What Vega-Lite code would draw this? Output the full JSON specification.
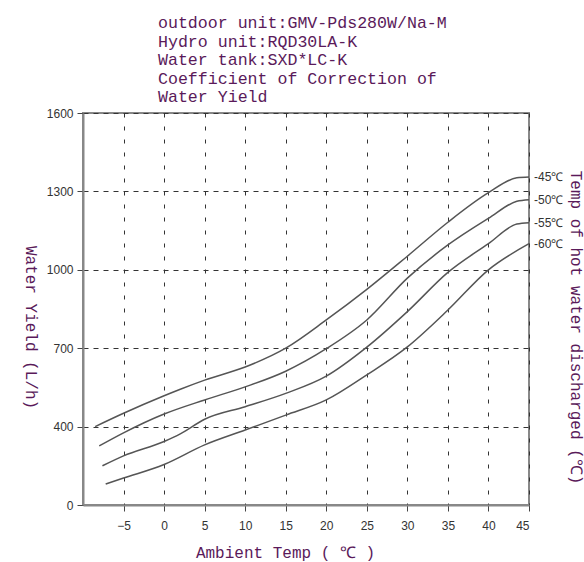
{
  "$schema": "https://vega.github.io/schema/vega-lite/v6.json",
  "width": 446,
  "height": 392,
  "autosize": {"type": "none"},
  "padding": {"left": 83, "top": 113, "right": 55, "bottom": 57},
  "background": "white",
  "title": {
    "text": ["outdoor unit:GMV-Pds280W/Na-M", "Hydro unit:RQD30LA-K", "Water tank:SXD*LC-K", "Coefficient of Correction of", "Water Yield"],
    "anchor": "start",
    "frame": "group",
    "dx": 75,
    "offset": -15,
    "baseline": "bottom",
    "font": "Liberation Mono",
    "fontSize": 16.6,
    "fontWeight": "normal",
    "color": "#5a1a5a",
    "lineHeight": 18.5
  },
  "config": {
    "view": {"stroke": "#888888", "strokeWidth": 2},
    "axis": {
      "labelFont": "Liberation Sans Narrow, Liberation Sans",
      "labelFontSize": 12,
      "labelColor": "#333333",
      "titleFont": "Liberation Mono",
      "titleFontSize": 16,
      "titleFontWeight": "normal",
      "titleColor": "#5a1a5a",
      "domainColor": "#888888",
      "domainWidth": 2,
      "tickColor": "#444444",
      "tickSize": 6,
      "gridColor": "#333333",
      "gridWidth": 1,
      "gridOpacity": 1
    }
  },
  "data": {
    "values": [
      {"t": -8.5, "y": 400, "s": "45℃"}, {"t": -5, "y": 451, "s": "45℃"}, {"t": 0, "y": 518, "s": "45℃"}, {"t": 2, "y": 543, "s": "45℃"}, {"t": 5, "y": 578, "s": "45℃"}, {"t": 10, "y": 628, "s": "45℃"}, {"t": 15, "y": 700, "s": "45℃"}, {"t": 20, "y": 808, "s": "45℃"}, {"t": 25, "y": 925, "s": "45℃"}, {"t": 30, "y": 1052, "s": "45℃"}, {"t": 35, "y": 1182, "s": "45℃"}, {"t": 40, "y": 1295, "s": "45℃"}, {"t": 43.5, "y": 1352, "s": "45℃"}, {"t": 45, "y": 1355, "s": "45℃"},
      {"t": -8, "y": 326, "s": "50℃"}, {"t": -5, "y": 376, "s": "50℃"}, {"t": 0, "y": 448, "s": "50℃"}, {"t": 5, "y": 502, "s": "50℃"}, {"t": 10, "y": 552, "s": "50℃"}, {"t": 15, "y": 612, "s": "50℃"}, {"t": 20, "y": 698, "s": "50℃"}, {"t": 25, "y": 808, "s": "50℃"}, {"t": 30, "y": 968, "s": "50℃"}, {"t": 35, "y": 1095, "s": "50℃"}, {"t": 40, "y": 1197, "s": "50℃"}, {"t": 43.5, "y": 1262, "s": "50℃"}, {"t": 45, "y": 1268, "s": "50℃"},
      {"t": -7.6, "y": 250, "s": "55℃"}, {"t": -5, "y": 288, "s": "55℃"}, {"t": 0, "y": 343, "s": "55℃"}, {"t": 2, "y": 372, "s": "55℃"}, {"t": 5, "y": 428, "s": "55℃"}, {"t": 10, "y": 476, "s": "55℃"}, {"t": 15, "y": 527, "s": "55℃"}, {"t": 20, "y": 593, "s": "55℃"}, {"t": 25, "y": 704, "s": "55℃"}, {"t": 30, "y": 840, "s": "55℃"}, {"t": 35, "y": 990, "s": "55℃"}, {"t": 40, "y": 1100, "s": "55℃"}, {"t": 43.5, "y": 1175, "s": "55℃"}, {"t": 45, "y": 1180, "s": "55℃"},
      {"t": -7.2, "y": 180, "s": "60℃"}, {"t": -5, "y": 203, "s": "60℃"}, {"t": 0, "y": 255, "s": "60℃"}, {"t": 5, "y": 330, "s": "60℃"}, {"t": 10, "y": 387, "s": "60℃"}, {"t": 15, "y": 444, "s": "60℃"}, {"t": 20, "y": 502, "s": "60℃"}, {"t": 25, "y": 598, "s": "60℃"}, {"t": 30, "y": 705, "s": "60℃"}, {"t": 35, "y": 846, "s": "60℃"}, {"t": 40, "y": 1000, "s": "60℃"}, {"t": 45, "y": 1100, "s": "60℃"}
    ]
  },
  "layer": [
    {
      "mark": {"type": "line", "interpolate": "monotone", "color": "#555555", "strokeWidth": 1.5},
      "encoding": {
        "x": {
          "field": "t", "type": "quantitative",
          "scale": {"domain": [-10, 45], "nice": false, "zero": false},
          "axis": {
            "values": [-5, 0, 5, 10, 15, 20, 25, 30, 35, 40, 45],
            "grid": true, "gridDash": [4, 9],
            "labelPadding": 9,
            "title": "Ambient Temp ( ℃ )",
            "titleX": 202, "titleY": 47, "titleBaseline": "middle", "titleAnchor": "middle", "titleAlign": "center"
          }
        },
        "y": {
          "field": "y", "type": "quantitative",
          "scale": {"domain": [100, 1600], "nice": false, "zero": false},
          "axis": {
            "values": [100, 400, 700, 1000, 1300, 1600],
            "labelExpr": "datum.value == 100 ? '0' : datum.label",
            "format": "d",
            "grid": true, "gridDash": [5, 5],
            "labelPadding": 4,
            "title": "Water Yield (L/h)",
            "titleAngle": 90,
            "titleX": -53, "titleY": 214, "titleBaseline": "middle", "titleAlign": "center"
          }
        },
        "detail": {"field": "s"}
      }
    },
    {
      "transform": [
        {"filter": "datum.t == 45"},
        {"calculate": "'-' + datum.s", "as": "lab"}
      ],
      "mark": {"type": "text", "align": "left", "baseline": "middle", "dx": 5, "font": "Liberation Sans Narrow, Liberation Sans", "fontSize": 12, "color": "#333333"},
      "encoding": {
        "x": {
          "field": "t", "type": "quantitative",
          "axis": {
            "values": [-5, 0, 5, 10, 15, 20, 25, 30, 35, 40, 45],
            "grid": true, "gridDash": [4, 9],
            "labelPadding": 9,
            "title": "Ambient Temp ( ℃ )",
            "titleX": 202, "titleY": 47, "titleBaseline": "middle", "titleAnchor": "middle", "titleAlign": "center"
          }
        },
        "y": {
          "field": "y", "type": "quantitative",
          "axis": {
            "orient": "right", "labels": false, "ticks": false, "domain": false, "grid": false,
            "title": "Temp of hot water discharged (℃)",
            "titleAngle": 90,
            "titleX": 46, "titleY": 214, "titleBaseline": "middle", "titleAlign": "center"
          }
        },
        "text": {"field": "lab"}
      }
    }
  ],
  "resolve": {"axis": {"y": "independent"}}
}
